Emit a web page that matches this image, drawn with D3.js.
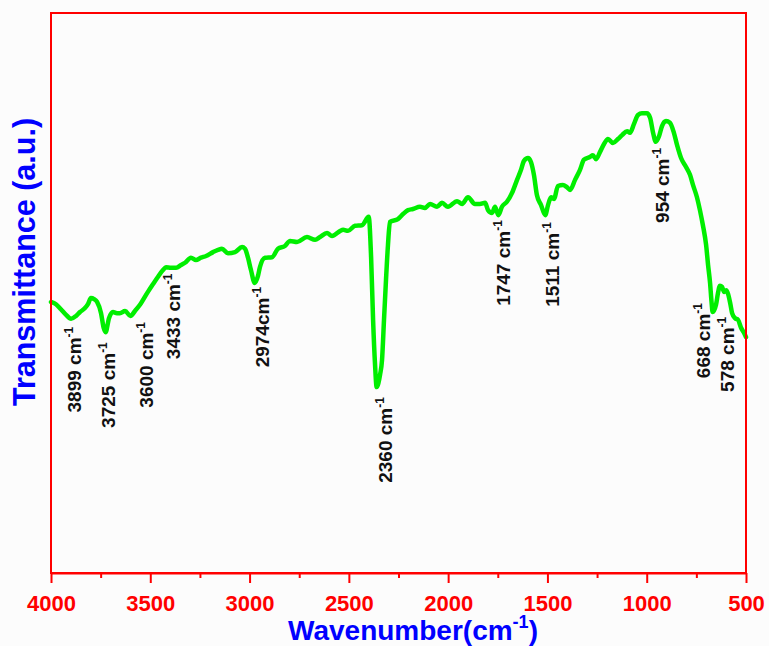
<!DOCTYPE html>
<html>
<head>
<meta charset="utf-8">
<script src="https://cdn.jsdelivr.net/npm/d3@7"></script>
<style>
  html, body { margin: 0; padding: 0; background: #fcfcfc; }
  svg { display: block; }
  text { font-family: Arial, "Liberation Sans", sans-serif; font-weight: bold; }
</style>
</head>
<body>
<svg id="chart" width="769" height="646"></svg>
<script>
// FTIR spectrum: wavenumber (cm-1) and transmittance (arbitrary units)
const wavenumber = [
  4000, 3975, 3950, 3924, 3899, 3874, 3854, 3829, 3814, 3799, 3783, 3768, 3748, 3735, 3725,
  3708, 3688, 3668, 3653, 3627, 3600, 3577, 3552, 3512, 3486, 3461, 3436, 3421, 3396, 3370,
  3345, 3325, 3295, 3270, 3245, 3219, 3184, 3159, 3139, 3109, 3073, 3038, 3023, 3008, 2993,
  2974, 2958, 2948, 2922, 2887, 2857, 2822, 2796, 2761, 2711, 2670, 2645, 2610, 2585, 2529,
  2504, 2469, 2434, 2400, 2388, 2378, 2368, 2360, 2343, 2333, 2323, 2313, 2303, 2293, 2253,
  2227, 2202, 2177, 2142, 2117, 2091, 2056, 2031, 2001, 1955, 1930, 1900, 1865, 1840, 1814,
  1799, 1779, 1764, 1747, 1729, 1704, 1678, 1653, 1633, 1618, 1598, 1583, 1568, 1553, 1532,
  1511, 1497, 1482, 1467, 1447, 1422, 1402, 1386, 1361, 1336, 1316, 1286, 1271, 1255, 1235,
  1215, 1195, 1170, 1145, 1124, 1099, 1084, 1064, 1044, 1024, 999, 983, 968, 954, 938,
  923, 903, 883, 863, 847, 827, 802, 782, 767, 747, 732, 717, 701, 691, 681,
  674, 668, 651, 641, 631, 621, 610, 600, 590, 578, 570, 555, 540, 525, 510, 500
];
const transmittance = [
  48.4, 48.0, 47.1, 46.1, 45.4, 45.9, 46.6, 47.3, 48.0, 49.1, 48.9, 48.4, 46.4, 43.8, 43.0,
  45.5, 46.6, 46.4, 46.4, 46.8, 45.9, 46.8, 47.9, 50.2, 51.6, 52.9, 54.1, 54.6, 54.5, 54.5,
  55.0, 55.4, 56.3, 55.9, 56.3, 56.6, 57.3, 57.7, 57.9, 57.1, 57.3, 58.2, 57.9, 56.3, 54.1,
  51.8, 53.0, 54.6, 56.3, 56.4, 57.9, 58.4, 59.3, 59.1, 60.0, 59.5, 60.0, 60.7, 60.2, 61.3,
  61.1, 62.0, 62.1, 63.6, 56.4, 45.2, 37.1, 33.2, 35.4, 38.0, 45.2, 52.3, 58.6, 62.7, 63.2,
  64.1, 64.8, 65.0, 65.4, 65.2, 65.9, 65.4, 66.1, 65.4, 66.4, 65.9, 67.1, 65.9, 65.9, 66.1,
  64.8, 64.3, 65.4, 63.9, 65.4, 66.3, 67.9, 70.2, 72.0, 73.6, 74.1, 73.4, 71.1, 67.5, 65.7,
  63.9, 65.7, 67.1, 66.8, 69.1, 69.3, 68.9, 68.4, 70.2, 72.0, 73.8, 74.3, 74.6, 73.9, 75.2,
  76.6, 77.5, 76.8, 77.5, 78.2, 78.9, 78.6, 80.2, 81.8, 82.1, 82.1, 81.3, 78.6, 77.0, 78.0,
  79.8, 80.7, 80.4, 78.6, 76.4, 74.1, 72.5, 71.1, 69.3, 67.1, 64.8, 62.1, 58.6, 55.0, 51.8,
  48.6, 46.6, 47.9, 50.0, 51.3, 51.1, 50.2, 50.5, 49.8, 47.9, 46.4, 45.5, 45.2, 43.8, 42.9, 42.1
];

// Axis ticks
const majorTicks = [4000, 3500, 3000, 2500, 2000, 1500, 1000, 500];
const minorTicks = [3750, 3250, 2750, 2250, 1750, 1250, 750];

// Assigned bands
const peakWavenumbers = [3899, 3725, 3600, 3433, 2974, 2360, 1747, 1511, 954, 668, 578];
const peakLabels = ["3899 cm", "3725 cm", "3600 cm", "3433 cm", "2974cm", "2360 cm",
                    "1747 cm", "1511 cm", "954 cm", "668 cm", "578 cm"];

(function draw() {
  // label placement: horizontal shift and gap below the curve (px)
  const labelShift = [3, 2.5, 15.5, 9.5, 7, 8, 4.5, 7, 6, -9.5, -3.5];
  const labelGap   = [8, 10, 6, 4, 4, 10, 5, 7, 6, -9, 12];

  const plotLeft = 51, plotRight = 746, plotTop = 13, plotBottom = 573;
  const red = "#ff0000", blue = "#0000ff", green = "#00ee00";

  const svg = d3.select("#chart");

  const x = d3.scaleLinear().domain([4000, 500]).range([plotLeft, plotRight]);
  const y = d3.scaleLinear().domain([0, 100]).range([plotBottom, plotTop]);

  const data = wavenumber.map((w, i) => ({ w, t: transmittance[i] }));

  // spectrum line
  const line = d3.line()
    .x(d => x(d.w))
    .y(d => y(d.t))
    .curve(d3.curveMonotoneX);

  svg.append("path")
    .datum(data)
    .attr("d", line)
    .attr("fill", "none")
    .attr("stroke", green)
    .attr("stroke-width", 4.5)
    .attr("stroke-linejoin", "round")
    .attr("stroke-linecap", "round");

  // frame
  svg.append("rect")
    .attr("x", plotLeft).attr("y", plotTop)
    .attr("width", plotRight - plotLeft).attr("height", plotBottom - plotTop)
    .attr("fill", "none")
    .attr("stroke", red)
    .attr("stroke-width", 2);

  // bottom axis: major ticks with labels
  const xAxis = d3.axisBottom(x)
    .tickValues(majorTicks)
    .tickSize(10)
    .tickSizeOuter(0)
    .tickFormat(d3.format("d"));

  const gx = svg.append("g")
    .attr("transform", `translate(0,${plotBottom})`)
    .call(xAxis);
  gx.select(".domain").attr("stroke", red).attr("stroke-width", 2);
  gx.selectAll(".tick line").attr("stroke", red).attr("stroke-width", 2);
  gx.selectAll(".tick text")
    .attr("fill", red)
    .attr("y", 38)
    .attr("dy", 0)
    .style("font-size", "22px")
    .style("font-weight", "bold")
    .style("font-family", 'Arial, "Liberation Sans", sans-serif');

  // minor ticks
  const gMinor = svg.append("g")
    .attr("transform", `translate(0,${plotBottom})`)
    .call(d3.axisBottom(x).tickValues(minorTicks).tickSize(5).tickSizeOuter(0).tickFormat(""));
  gMinor.select(".domain").remove();
  gMinor.selectAll(".tick line").attr("stroke", red).attr("stroke-width", 2);

  // value of the spectrum at a given wavenumber
  function valueAt(w) {
    for (let i = 0; i < data.length - 1; i++) {
      const a = data[i], b = data[i + 1];
      if (w <= a.w && w >= b.w) {
        const f = (a.w - w) / (a.w - b.w);
        return a.t + f * (b.t - a.t);
      }
    }
    return data[data.length - 1].t;
  }

  // band labels, rotated, reading bottom to top
  const labels = svg.append("g");
  peakWavenumbers.forEach((w, i) => {
    const cx = x(w) + labelShift[i];
    const ty = y(valueAt(w)) + labelGap[i];
    const t = labels.append("text")
      .attr("transform", `translate(${cx + 7},${ty}) rotate(-90)`)
      .attr("text-anchor", "end")
      .attr("fill", "#111")
      .style("font-size", "19px");
    t.append("tspan").text(peakLabels[i]);
    t.append("tspan").attr("dy", -8).style("font-size", "12px").text("-1");
  });

  // x title
  const xt = svg.append("text")
    .attr("x", 413).attr("y", 640)
    .attr("text-anchor", "middle")
    .attr("fill", blue)
    .style("font-size", "28px");
  xt.append("tspan").text("Wavenumber(cm");
  xt.append("tspan").attr("dy", -12).style("font-size", "18px").text("-1");
  xt.append("tspan").attr("dy", 12).text(")");

  // y title
  svg.append("text")
    .attr("transform", "translate(35,262) rotate(-90)")
    .attr("text-anchor", "middle")
    .attr("fill", blue)
    .style("font-size", "30.5px")
    .text("Transmittance (a.u.)");
})();
</script>
</body>
</html>
